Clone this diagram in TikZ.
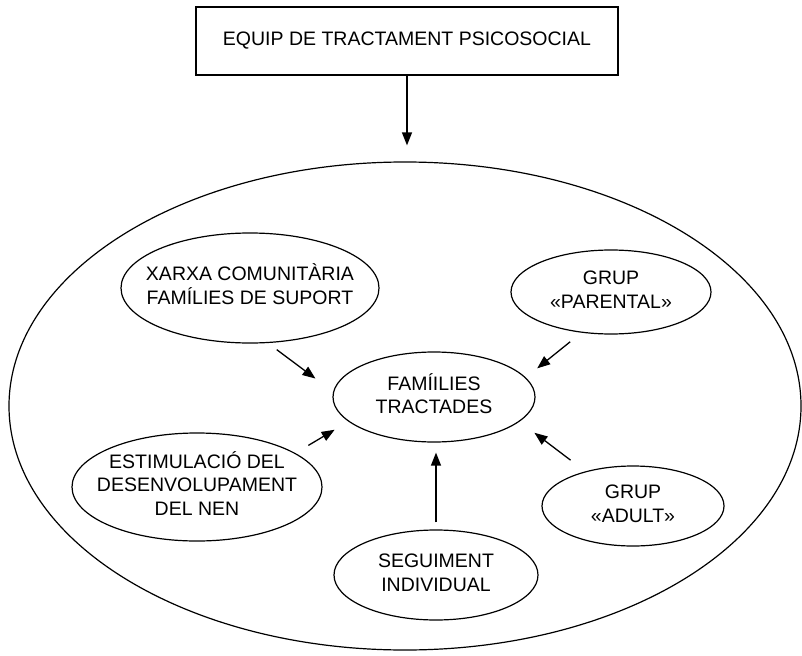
\documentclass[tikz,border=0pt]{standalone}
\usepackage{fontspec}
\setmainfont{Liberation Sans}
\usetikzlibrary{shapes.geometric,arrows.meta}
\newcommand{\ctext}[1]{\makebox[0pt]{\begin{tabular}{@{}c@{}}#1\end{tabular}}}
\begin{document}
\begin{tikzpicture}[x=1pt,y=-1pt,
  font=\fontsize{19.5}{23.5}\selectfont,
  line width=1.2pt,
  ell/.style={ellipse, draw, inner sep=0pt},
  arr/.style={-{Triangle[length=13pt,width=10pt]}, line width=1.3pt}]
\useasboundingbox (0,0) rectangle (802,655);
\node[draw, minimum width=422pt, minimum height=68pt, inner sep=0pt] (equip) at (407,41) {EQUIP DE TRACTAMENT PSICOSOCIAL};
\node[ell, minimum width=792pt, minimum height=488pt] (big) at (405,406) {};
\node[ell, minimum width=258pt, minimum height=110pt] (xarxa) at (250,288) {\ctext{XARXA COMUNITÀRIA\\FAMÍLIES DE SUPORT}};
\node[ell, minimum width=200pt, minimum height=84pt] (parental) at (611,292) {\ctext{GRUP\\«PARENTAL»}};
\node[ell, minimum width=202pt, minimum height=90pt] (fam) at (434,397) {\ctext{FAMÍILIES\\TRACTADES}};
\node[ell, minimum width=250pt, minimum height=108pt] (estim) at (197,487) {\ctext{ESTIMULACIÓ DEL\\DESENVOLUPAMENT\\DEL NEN}};
\node[ell, minimum width=182pt, minimum height=80pt] (adult) at (633,506) {\ctext{GRUP\\«ADULT»}};
\node[ell, minimum width=204pt, minimum height=90pt] (seg) at (436,575) {\ctext{SEGUIMENT\\INDIVIDUAL}};
\draw[arr, shorten >=16pt] (equip.south) -- (equip.south |- big.north);
\draw[arr, shorten <=11pt, shorten >=22pt] (xarxa.-72) -- (fam.177);
\draw[arr, shorten <=14.5pt, shorten >=14.6pt] (parental.234) -- (fam.12.5);
\draw[arr, shorten <=15pt, shorten >=16pt] (estim.19.6) -- (fam.196.6);
\draw[arr, shorten <=18.5pt, shorten >=18.6pt] (adult.144.7) -- (fam.-16.6);
\draw[arr, shorten <=7pt, shorten >=10pt] (seg.north) -- (seg.north |- fam.south);
\end{tikzpicture}
\end{document}
